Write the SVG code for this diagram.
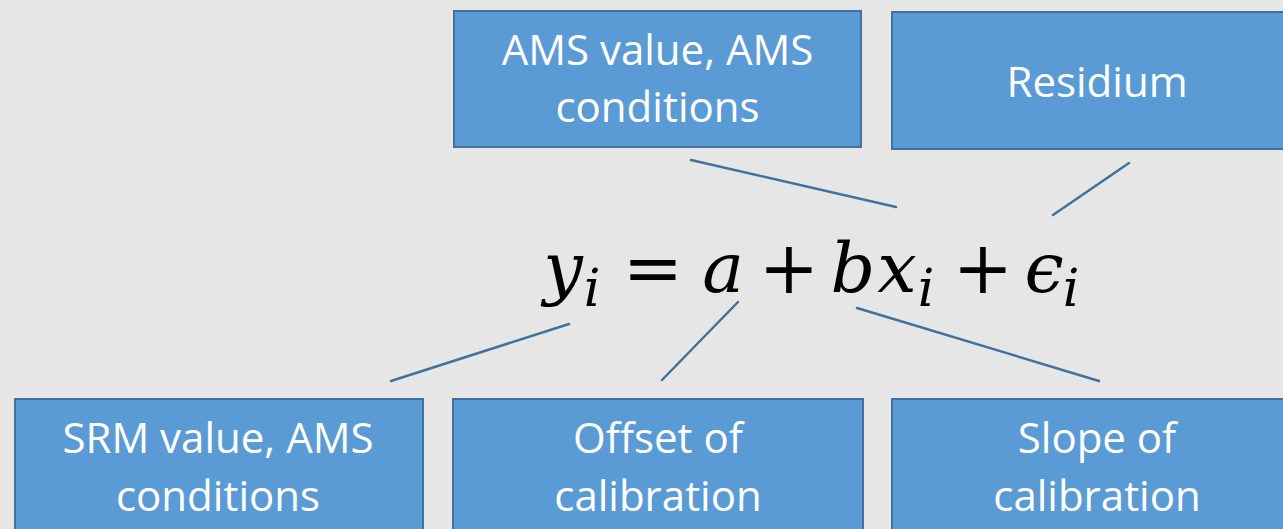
<svg xmlns="http://www.w3.org/2000/svg" width="1283" height="529" viewBox="0 0 1283 529">
<style>
.box{fill:#5B9BD5;stroke:#41719C;stroke-width:2}
.lbl{font-family:"Open Sans","Liberation Sans",sans-serif;font-size:42px;fill:#FFFFFF;text-anchor:middle}
.eq{font-family:"DejaVu Serif","Liberation Serif",serif;font-style:italic;font-size:70px;fill:#000000;text-anchor:middle}
.op{font-family:"DejaVu Serif","Liberation Serif",serif;font-size:72px;fill:#000000;text-anchor:middle}
.sub{font-family:"DejaVu Serif","Liberation Serif",serif;font-style:italic;font-size:52px;fill:#000000;text-anchor:middle}
.con{stroke:#41719C;stroke-width:2.5;fill:none;stroke-linecap:round}
</style>
<rect x="0" y="0" width="1283" height="529" fill="#E7E6E6"/>
<g id="connectors">
<line class="con" x1="691" y1="160" x2="896" y2="207"/>
<line class="con" x1="1129" y1="163" x2="1053" y2="215"/>
<line class="con" x1="569" y1="324" x2="391" y2="381"/>
<line class="con" x1="738" y1="302" x2="662" y2="380"/>
<line class="con" x1="857" y1="308" x2="1099" y2="381"/>
</g>
<g id="node-ams">
<rect class="box" x="454" y="11" width="407" height="136"/>
<text class="lbl" x="657.5" y="65">AMS value, AMS</text>
<text class="lbl" x="657.5" y="122">conditions</text>
</g>
<g id="node-residium">
<rect class="box" x="892" y="12" width="410" height="137"/>
<text class="lbl" x="1097" y="97">Residium</text>
</g>
<g id="node-equation">
<text class="eq" x="563" y="292">y</text>
<text class="sub" x="592" y="306">i</text>
<text class="op" x="653" y="293">=</text>
<text class="eq" x="723" y="292">a</text>
<text class="op" x="789" y="293">+</text>
<text class="eq" x="853" y="292">b</text>
<text class="eq" x="897" y="292">x</text>
<text class="sub" x="926" y="306">i</text>
<text class="op" x="983" y="293">+</text>
<text class="eq" x="1044" y="292">ϵ</text>
<text class="sub" x="1071" y="306">i</text>
</g>
<g id="node-srm">
<rect class="box" x="15" y="399" width="408" height="140"/>
<text class="lbl" x="218" y="453">SRM value, AMS</text>
<text class="lbl" x="218" y="511">conditions</text>
</g>
<g id="node-offset">
<rect class="box" x="453" y="399" width="410" height="140"/>
<text class="lbl" x="658" y="453">Offset of</text>
<text class="lbl" x="658" y="511">calibration</text>
</g>
<g id="node-slope">
<rect class="box" x="892" y="399" width="410" height="140"/>
<text class="lbl" x="1097" y="453">Slope of</text>
<text class="lbl" x="1097" y="511">calibration</text>
</g>
</svg>
